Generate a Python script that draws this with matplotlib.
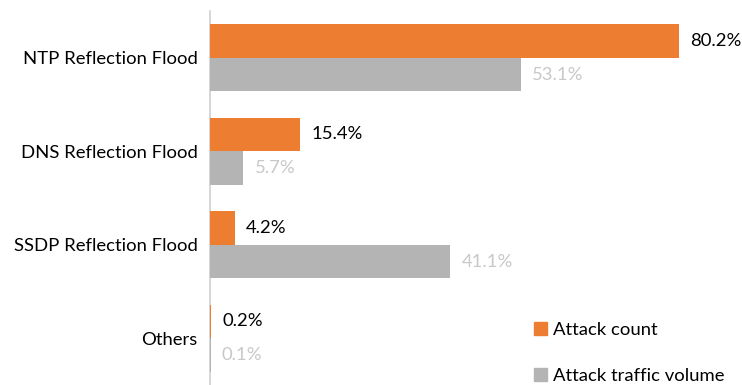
import matplotlib.pyplot as plt
import numpy as np
from matplotlib.patches import Patch

categories = ["NTP Reflection Flood", "DNS Reflection Flood", "SSDP Reflection Flood", "Others"]
attack_count = [80.2, 15.4, 4.2, 0.2]
traffic_volume = [53.1, 5.7, 41.1, 0.1]
series_names = ["Attack count", "Attack traffic volume"]

orange = "#ed7d31"
grey = "#b4b4b4"
fs = 13.3

plt.rcParams["font.family"] = ["Lato", "DejaVu Sans"]

fig = plt.figure(figsize=(7.42, 3.85), dpi=100)
ax = fig.add_axes([210 / 742, 0.0, 532 / 742, 374 / 385])

y = np.arange(len(categories))
h = 0.36
ax.barh(y - h / 2, attack_count, height=h, color=orange, zorder=3)
ax.barh(y + h / 2, traffic_volume, height=h, color=grey, zorder=3)

for i in range(len(categories)):
    ax.text(attack_count[i] + 1.9, y[i] - h / 2, f"{attack_count[i]}%",
            va="center", ha="left", fontsize=fs, color="#000000")
    ax.text(traffic_volume[i] + 1.9, y[i] + h / 2, f"{traffic_volume[i]}%",
            va="center", ha="left", fontsize=fs, color="#c8c8c8")

ax.set_xlim(0, 532 / 5.85)
ax.set_ylim(len(categories) - 0.5, -0.5)
ax.set_yticks(y)
ax.set_yticklabels(categories, fontsize=fs)
ax.tick_params(axis="y", length=0, pad=9)
ax.set_xticks([])
for side in ("top", "right", "bottom"):
    ax.spines[side].set_visible(False)
ax.spines["left"].set_color("#d0d0d0")
ax.spines["left"].set_linewidth(1.2)
ax.spines["left"].set_zorder(1)

handles = [Patch(color=orange), Patch(color=grey)]
fig.legend(handles, series_names, loc="lower left", bbox_to_anchor=(517 / 742, -0.04),
           frameon=False, fontsize=fs, handlelength=0.75, handleheight=0.75,
           handletextpad=0.3, labelspacing=1.6)

fig.savefig("out.png", dpi=100)
